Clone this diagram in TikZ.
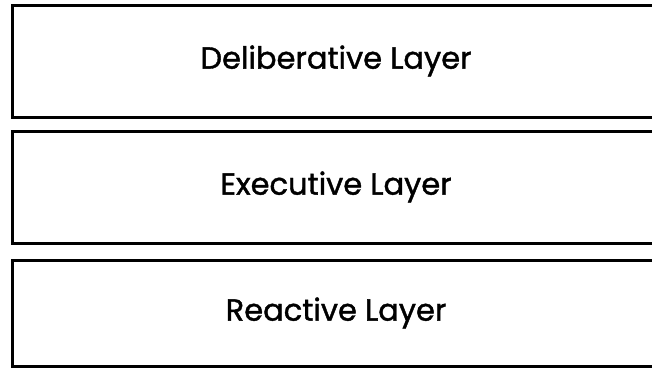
\documentclass[tikz,border=0pt]{standalone}
\usepackage{fontspec}
\setmainfont{Poppins}[BoldFont=Poppins,BoldFeatures={FakeBold=1.3}]
\begin{document}
\begin{tikzpicture}[x=1pt,y=-1pt,
  layer/.style={draw=black,line width=3pt,fill=white,line join=miter},
  layertext/.style={font=\fontsize{30.5}{34}\selectfont\bfseries,text=black}]
\useasboundingbox (0,0) rectangle (652,367);
\begin{scope}
\clip (0,0) rectangle (652,367);
% three stacked layers, running past the right edge
\draw[layer] (12,5) rectangle (664,117);
\draw[layer] (12,131) rectangle (664,243);
\draw[layer] (12,260) rectangle (664,366);
\end{scope}
\node[layertext] (delib) at (336,61) {Deliberative Layer};
\node[layertext] (exec) at (336,187) {Executive Layer};
\node[layertext] (react) at (336,313) {Reactive Layer};
\end{tikzpicture}
\end{document}
